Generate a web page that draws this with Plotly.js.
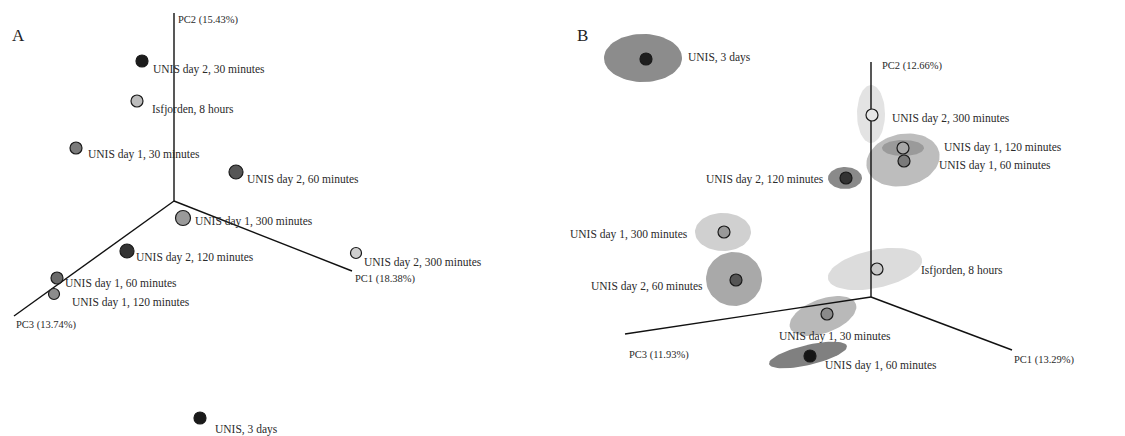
<!DOCTYPE html>
<html><head><meta charset="utf-8">
<script src="https://cdn.plot.ly/plotly-3.0.1.min.js"></script>
<style>html,body{margin:0;padding:0;background:#fff}</style>
</head><body><div id="chart" style="width:1125px;height:436px"></div>
<script>
// ---------- Panel A (projected PCoA coordinates, origin = axes origin) ----------
const aLabels = ["UNIS day 2, 30 minutes","Isfjorden, 8 hours","UNIS day 1, 30 minutes","UNIS day 2, 60 minutes","UNIS day 1, 300 minutes","UNIS day 2, 120 minutes","UNIS day 2, 300 minutes","UNIS day 1, 60 minutes","UNIS day 1, 120 minutes","UNIS, 3 days"];
const aX = [-32, -37, -98, 62, 9, -47, 182, -117, -120, 26];
const aY = [140, 100, 53, 29, -17, -50, -52, -77, -93, -217];
const aAxisNames = ["PC1 (18.38%)","PC2 (15.43%)","PC3 (13.74%)"];
const aAxisEndX = [178, 0, -160];
const aAxisEndY = [-70, 188, -115];

// ---------- Panel B ----------
const bLabels = ["UNIS, 3 days","UNIS day 2, 300 minutes","UNIS day 1, 120 minutes","UNIS day 1, 60 minutes","UNIS day 2, 120 minutes","UNIS day 1, 300 minutes","UNIS day 2, 60 minutes","Isfjorden, 8 hours","UNIS day 1, 30 minutes","UNIS day 1, 60 minutes"];
const bX = [-225, 1, 32, 33, -25, -147, -135, 6, -44, -61];
const bY = [238, 182, 149, 136, 119, 65, 17, 28, -17, -59];
// confidence regions (centre, half-widths, rotation in degrees)
const bEllCX = [-228, 0, 32, 32, -26, -148, -137, 4, -48, -63];
const bEllCY = [239, 183, 137, 149, 119, 65, 18, 28, -19, -58];
const bEllRX = [39, 14, 37, 21, 17, 28, 28, 48, 35, 40];
const bEllRY = [24, 29, 26, 8, 11, 19, 27, 19, 17, 10];
const bEllRot = [0, 0, 12, 0, 0, 0, 0, 12, 20, 13];
const bAxisNames = ["PC1 (13.29%)","PC2 (12.66%)","PC3 (11.93%)"];
const bAxisEndX = [141, 0, -246];
const bAxisEndY = [-53, 235, -37];

// ---------- styles ----------
const aColors = ["#1c1c1c","#bcbcbc","#7a7a7a","#565656","#9a9a9a","#333333","#cfcfcf","#6a6a6a","#8c8c8c","#1a1a1a"];
const aSizes = [12,12,12,14,15,14,11,12,11,12];
const aShift = [[9,-8],[13,-8],[10,-6],[9,-7],[10,-3],[7,-6],[6,-9],[6,-5],[16,-8],[13,-11]];
const bColors = ["#1e1e1e","#e6e6e6","#a8a8a8","#7a7a7a","#333333","#999999","#555555","#c8c8c8","#8a8a8a","#151515"];
const bEllColors = ["#8c8c8c","#e3e3e3","#bdbdbd","#9a9a9a","#8a8a8a","#d0d0d0","#a9a9a9","#dcdcdc","#b9b9b9","#808080"];
const bLabelPos = [[686,58,"left"],[890,118,"left"],[942,147,"left"],[937,165,"left"],[826,179,"right"],[690,234,"right"],[705,286,"right"],[919,270,"left"],[777,336,"left"],[823,365,"left"]];
const aAxisLabelPx = [[353,279],[176,20],[14,325]];
const bAxisLabelPx = [[1012,360],[880,66],[627,355]];
const FONT = "Liberation Serif, Times New Roman, serif";

const traces = [];
const annotations = [];

function axesLines(ex, ey, xa, ya){
  for(let i=0;i<ex.length;i++){
    traces.push({x:[0,ex[i]], y:[0,ey[i]], mode:"lines", xaxis:xa, yaxis:ya,
      line:{color:"#111", width:1.4}, hoverinfo:"skip", showlegend:false});
  }
}

// Panel B ellipses first (underneath)
for(let i=0;i<bEllCX.length;i++){
  const xs=[], ys=[]; const r=bEllRot[i]*Math.PI/180;
  for(let k=0;k<=72;k++){
    const t=2*Math.PI*k/72;
    const ex=bEllRX[i]*Math.cos(t), ey=bEllRY[i]*Math.sin(t);
    xs.push(bEllCX[i]+ex*Math.cos(r)-ey*Math.sin(r));
    ys.push(bEllCY[i]+ex*Math.sin(r)+ey*Math.cos(r));
  }
  traces.push({x:xs, y:ys, mode:"lines", fill:"toself", fillcolor:bEllColors[i],
    line:{width:0, color:bEllColors[i]}, xaxis:"x2", yaxis:"y2", hoverinfo:"skip", showlegend:false});
}

axesLines(aAxisEndX, aAxisEndY, "x", "y");
axesLines(bAxisEndX, bAxisEndY, "x2", "y2");

traces.push({x:aX, y:aY, text:aLabels, mode:"markers", xaxis:"x", yaxis:"y",
  marker:{color:aColors, size:aSizes, opacity:1, line:{color:"#1a1a1a", width:1.2}}, showlegend:false});
traces.push({x:bX, y:bY, text:bLabels, mode:"markers", xaxis:"x2", yaxis:"y2",
  marker:{color:bColors, size:12, opacity:1, line:{color:"#1a1a1a", width:1.2}}, showlegend:false});

// Panel A labels
for(let i=0;i<aLabels.length;i++){
  annotations.push({x:aX[i], y:aY[i], xref:"x", yref:"y", text:aLabels[i], showarrow:false,
    xanchor:"left", yanchor:"middle", xshift:aShift[i][0], yshift:aShift[i][1],
    font:{family:FONT, size:11.5, color:"#2a2a2a"}});
}
// Panel B labels (placed in pixel space of the figure)
for(let i=0;i<bLabels.length;i++){
  annotations.push({x:bLabelPos[i][0]/1125, y:1-bLabelPos[i][1]/436, xref:"paper", yref:"paper",
    text:bLabels[i], showarrow:false, xanchor:bLabelPos[i][2], yanchor:"middle",
    font:{family:FONT, size:11.5, color:"#2a2a2a"}});
}
// axis names
for(let i=0;i<3;i++){
  annotations.push({x:aAxisLabelPx[i][0]/1125, y:1-aAxisLabelPx[i][1]/436, xref:"paper", yref:"paper",
    text:aAxisNames[i], showarrow:false, xanchor:"left", yanchor:"middle",
    font:{family:FONT, size:10.5, color:"#2a2a2a"}});
  annotations.push({x:bAxisLabelPx[i][0]/1125, y:1-bAxisLabelPx[i][1]/436, xref:"paper", yref:"paper",
    text:bAxisNames[i], showarrow:false, xanchor:"left", yanchor:"middle",
    font:{family:FONT, size:10.5, color:"#2a2a2a"}});
}
annotations.push({x:10/1125, y:1-35/436, xref:"paper", yref:"paper", text:"A", showarrow:false,
  xanchor:"left", yanchor:"middle", font:{family:FONT, size:17, color:"#222"}});
annotations.push({x:575/1125, y:1-35/436, xref:"paper", yref:"paper", text:"B", showarrow:false,
  xanchor:"left", yanchor:"middle", font:{family:FONT, size:17, color:"#222"}});

const hidden = {visible:false, fixedrange:true};
const layout = {
  width:1125, height:436, margin:{l:0,r:0,t:0,b:0},
  paper_bgcolor:"#fff", plot_bgcolor:"#fff", showlegend:false,
  xaxis:Object.assign({domain:[0,0.5], range:[-174,388.5]}, hidden),
  yaxis:Object.assign({range:[-235,201]}, hidden),
  xaxis2:Object.assign({domain:[0.5,1], range:[-308.5,254], anchor:"y2"}, hidden),
  yaxis2:Object.assign({range:[-139,297], anchor:"x2"}, hidden),
  annotations:annotations
};
Plotly.newPlot("chart", traces, layout, {displayModeBar:false, staticPlot:true});
</script></body></html>
